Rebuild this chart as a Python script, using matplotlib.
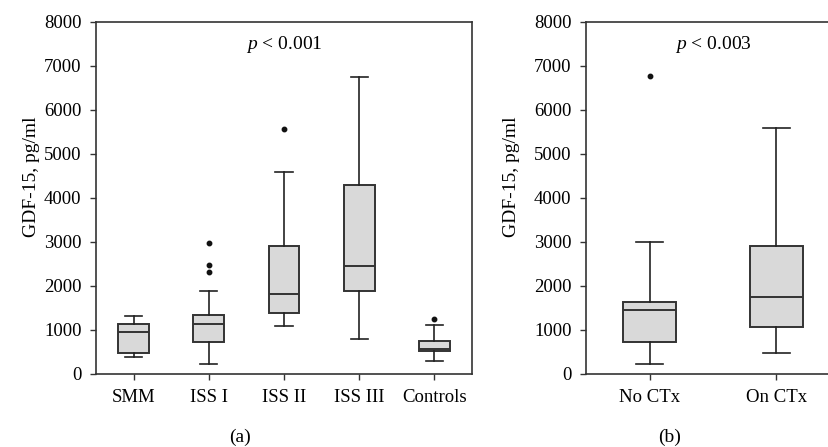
import matplotlib
matplotlib.use('Agg')
import matplotlib.pyplot as plt

# Panel (a): disease stage groups
groups_a = ['SMM', 'ISS I', 'ISS II', 'ISS III', 'Controls']
whislo_a = [380, 235, 1085, 795, 295]
q1_a = [470, 727, 1380, 1895, 515]
med_a = [947, 1144, 1826, 2455, 576]
q3_a = [1136, 1333, 2917, 4295, 750]
whishi_a = [1311, 1886, 4591, 6758, 1121]
fliers_a = [[], [2977, 2470, 2318], [5561], [], [1250]]

# Panel (b): chemotherapy
groups_b = ['No CTx', 'On CTx']
whislo_b = [235, 470]
q1_b = [735, 1068]
med_b = [1447, 1758]
q3_b = [1644, 2917]
whishi_b = [3000, 5591]
fliers_b = [[6773], []]

pvals = ['$p$ < 0.001', '$p$ < 0.003']

plt.rcParams['font.family'] = 'Liberation Serif'
plt.rcParams['mathtext.fontset'] = 'custom'
plt.rcParams['mathtext.it'] = 'Liberation Serif:italic'
plt.rcParams['mathtext.rm'] = 'Liberation Serif'

edge = '#333333'
fill = '#d9d9d9'
fs_tick = 13.5
fs_text = 14


def make_stats(labels, lo, q1, med, q3, hi, fl):
    stats = []
    for i in range(len(labels)):
        stats.append(dict(label=labels[i], whislo=lo[i], q1=q1[i], med=med[i],
                          q3=q3[i], whishi=hi[i], fliers=fl[i]))
    return stats


def draw_panel(ax, stats, ptext, capw):
    ax.bxp(stats, widths=0.41, patch_artist=True, showfliers=True,
           boxprops=dict(facecolor=fill, edgecolor=edge, linewidth=1.4),
           medianprops=dict(color=edge, linewidth=1.4),
           whiskerprops=dict(color='#222222', linewidth=1.2),
           capprops=dict(color='#222222', linewidth=1.2),
           capwidths=capw,
           flierprops=dict(marker='o', markerfacecolor='#111111',
                           markeredgecolor='#111111', markersize=3.2))
    ax.set_ylim(0, 8000)
    ax.set_xlim(0.5, len(stats) + 0.5)
    ax.set_yticks(range(0, 8001, 1000))
    ax.tick_params(axis='both', labelsize=fs_tick, direction='out', length=4.5,
                   width=1.0, color=edge)
    ax.tick_params(axis='y', pad=6)
    ax.tick_params(axis='x', pad=6.5)
    for s in ax.spines.values():
        s.set_color(edge)
        s.set_linewidth(1.2)
    ax.set_ylabel('GDF-15, pg/ml', fontsize=fs_text)
    ax.text(0.5, 0.935, ptext, transform=ax.transAxes, ha='center',
            va='center', fontsize=fs_text)


fig = plt.figure(figsize=(8.29, 4.47), dpi=100)
ax1 = fig.add_axes([96/829, 1 - 374/447, 376/829, 352/447])
ax2 = fig.add_axes([586/829, 1 - 374/447, 254/829, 352/447])

draw_panel(ax1, make_stats(groups_a, whislo_a, q1_a, med_a, q3_a, whishi_a, fliers_a),
           pvals[0], 0.23)
draw_panel(ax2, make_stats(groups_b, whislo_b, q1_b, med_b, q3_b, whishi_b, fliers_b),
           pvals[1], 0.21)
ax2.spines['right'].set_visible(False)

ax1.yaxis.set_label_coords(-0.149, 0.56)
ax2.yaxis.set_label_coords(-0.26, 0.56)

fig.text(240/829, 1 - 437/447, '(a)', ha='center', va='center', fontsize=fs_text)
fig.text(670/829, 1 - 437/447, '(b)', ha='center', va='center', fontsize=fs_text)

fig.savefig('out.png', dpi=100)
